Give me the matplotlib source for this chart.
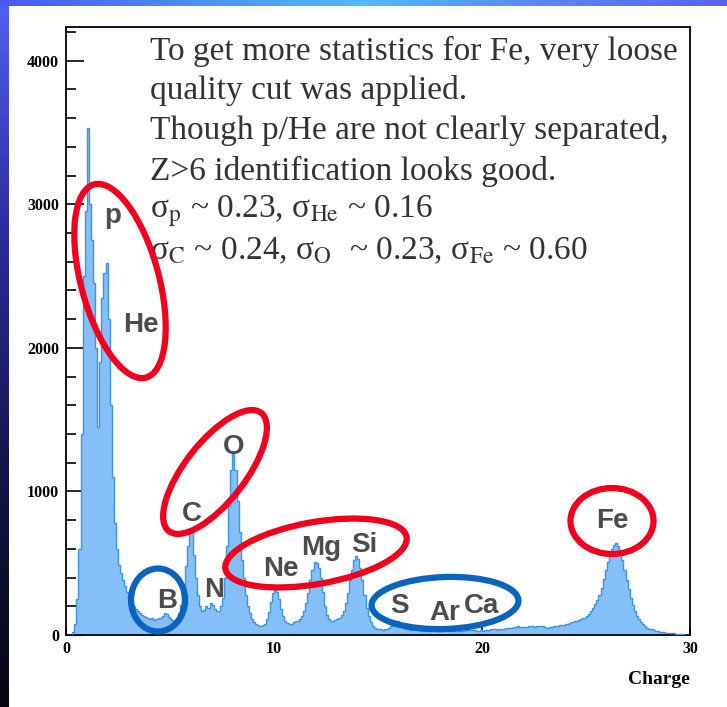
import numpy as np
import matplotlib
matplotlib.use("Agg")
import matplotlib.pyplot as plt
from matplotlib.patches import Ellipse
from matplotlib.colors import LinearSegmentedColormap

# charge histogram, 0.1 wide bins from 0 to 30
counts = [
    0, 0, 0, 20, 80, 250, 600, 1400, 2500, 2950,          # 0 - 1
    3530, 3000, 2750, 2450, 2000, 1450, 1900, 2350, 2520, 2590,  # 1 - 2
    2200, 1600, 1100, 780, 600, 490, 430, 380, 340, 300,  # 2 - 3
    260, 230, 200, 180, 165, 150, 140, 130, 125, 115,
    110, 115, 105, 110, 120, 115, 130, 150, 145, 125,
    110, 100, 105, 120, 150, 210, 320, 480, 620, 740,
    720, 560, 400, 280, 200, 170, 175, 200, 190, 220,
    210, 180, 165, 170, 200, 260, 400, 620, 900, 1150,
    1280, 1150, 930, 720, 520, 400, 280, 200, 150, 110,
    90, 75, 70, 65, 70, 80, 110, 160, 230, 290,
    310, 300, 250, 180, 130, 100, 85, 80, 80, 90,         # 10 - 11
    95, 100, 110, 130, 170, 220, 290, 380, 450, 510,
    500, 470, 400, 300, 200, 140, 110, 100, 100, 105,
    110, 120, 140, 170, 220, 290, 380, 450, 520, 550,
    530, 470, 380, 280, 190, 130, 90, 65, 50, 45,
    40, 40, 38, 40, 45, 50, 60, 80, 100, 95,
    80, 60, 50, 45, 40, 35, 35, 33, 35, 32,
    30, 30, 32, 30, 28, 30, 32, 35, 33, 30,
    30, 32, 35, 33, 30, 28, 30, 32, 30, 30,
    28, 30, 33, 35, 38, 35, 32, 30, 30, 32,
    30, 32, 35, 38, 40, 42, 40, 38, 40, 42,               # 20 - 21
    45, 48, 50, 52, 50, 55, 58, 60, 58, 55,
    55, 58, 60, 62, 60, 58, 60, 62, 65, 60,
    55, 52, 55, 58, 60, 62, 65, 68, 70, 72,
    75, 80, 85, 90, 95, 100, 105, 110, 115, 120,
    130, 145, 165, 190, 215, 245, 280, 330, 390, 450,
    510, 560, 600, 630, 640, 620, 580, 520, 450, 380,
    320, 260, 210, 170, 135, 110, 90, 75, 62, 52,
    45, 40, 35, 30, 27, 24, 20, 18, 16, 15,
    14, 13, 12, 10, 8, 6, 4, 2, 0, 0,
]
edges = np.linspace(0, 30, len(counts) + 1)

notes = [
    "To get more statistics for Fe, very loose",
    "quality cut was applied.",
    "Though p/He are not clearly separated,",
    "Z>6 identification looks good.",
    "σ$_{\\rm p}$ ~ 0.23, σ$_{\\rm He}$ ~ 0.16",
    "σ$_{\\rm C}$ ~ 0.24, σ$_{\\rm O}$  ~ 0.23, σ$_{\\rm Fe}$ ~ 0.60",
]

elements = ["p", "He", "C", "N", "O", "B", "Ne", "Mg", "Si", "S", "Ar", "Ca", "Fe"]
elem_xy = [(113, 216), (141, 325), (192, 514), (214, 590), (234, 447), (167, 601),
           (281, 569), (321, 548), (364, 545), (399, 606), (445, 613), (482, 606),
           (612, 521)]

# (cx, cy, w, h, angle, colour) in pixels
rings = [
    (120, 281, 78, 200, -15, "#f2001e"),
    (215, 472, 60, 150, 38, "#f2001e"),
    (316, 553, 184, 62, -10, "#f2001e"),
    (612, 521, 83, 66, 0, "#f2001e"),
    (158, 600, 54, 63, 0, "#0a64bf"),
    (445, 603, 147, 52, -2, "#0a64bf"),
]

W, H = 727, 707
plt.rcParams["mathtext.fontset"] = "stix"
fig = plt.figure(figsize=(W / 100, H / 100), dpi=100)
fig.patch.set_facecolor("white")

ax = fig.add_axes([66 / W, 72 / H, 624 / W, 608 / H])
ax.stairs(counts, edges, fill=True, color="#84c0f7", zorder=2)
ax.stairs(counts, edges, color="#3f92e3", lw=1.0, zorder=3)
ax.set_xlim(0, 30)
ax.set_ylim(0, 4235)

ax.set_xticks([0, 10, 20, 30])
ax.set_xticks(np.arange(0, 31, 2), minor=True)
ax.set_yticks([0, 1000, 2000, 3000, 4000])
ax.set_yticks(np.arange(0, 4235, 200), minor=True)
ax.tick_params(axis="y", which="major", direction="in", length=13, width=1.2, pad=5)
ax.tick_params(axis="y", which="minor", direction="in", length=7, width=1.2)
ax.tick_params(axis="x", which="major", direction="in", length=6, width=1.2, pad=4)
ax.tick_params(axis="x", which="minor", direction="in", length=4, width=1.2)
for lab in ax.get_xticklabels() + ax.get_yticklabels():
    lab.set_fontfamily("Liberation Serif")
    lab.set_fontweight("bold")
    lab.set_fontsize(11.5)
for sp in ax.spines.values():
    sp.set_linewidth(1.3)

# overlay in pixel coordinates for the annotations and slide frame
ov = fig.add_axes([0, 0, 1, 1])
ov.set_xlim(0, W)
ov.set_ylim(H, 0)
ov.axis("off")
ov.patch.set_alpha(0)

side = LinearSegmentedColormap.from_list("side", ["#5260f2", "#2c2c9a", "#14144a", "#06060f"])
top = LinearSegmentedColormap.from_list("top", ["#4a58ee", "#4c8cf6", "#52bbff", "#5a86f4", "#5a62ee"])
ov.imshow(np.linspace(0, 1, 256)[:, None], cmap=side, extent=[0, 9, H, 0], aspect="auto", zorder=1)
ov.imshow(np.linspace(0, 1, 256)[None, :], cmap=top, extent=[0, W, 6, 0], aspect="auto", zorder=1)

for i, line in enumerate(notes):
    ov.text(150, 51 + 40 * i, line, fontsize=24, color="#333333", va="center", ha="left",
            family="Liberation Serif")

for name, (x, y) in zip(elements, elem_xy):
    ov.text(x, y, name, fontsize=20, fontweight="bold", color="#4c4c4c", ha="center",
            va="center", family="Liberation Sans")

for cx, cy, w, h, ang, col in rings:
    ov.add_patch(Ellipse((cx, cy), w, h, angle=ang, fill=False, ec=col, lw=4.5, zorder=5))

ov.text(659, 680, "Charge", fontsize=14, fontweight="bold", family="Liberation Serif",
        ha="center", va="center")
ov.set_xlim(0, W)
ov.set_ylim(H, 0)

fig.savefig("out.png", dpi=100)
